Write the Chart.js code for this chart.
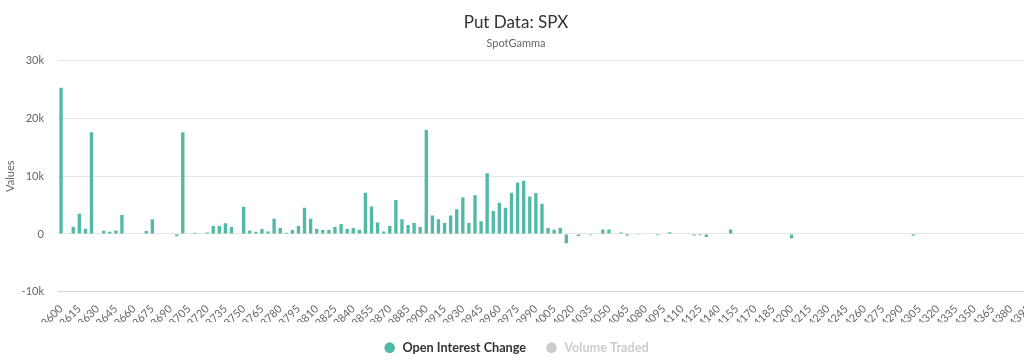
<!DOCTYPE html>
<html>
<head>
<meta charset="utf-8">
<title>Put Data: SPX</title>
<script src="https://cdn.jsdelivr.net/npm/chart.js@4.4.0/dist/chart.umd.min.js"></script>
<style>
  html, body { margin: 0; padding: 0; background: #fff; overflow: hidden; }
  #wrap { position: relative; width: 1034px; height: 364px; }
</style>
</head>
<body>
<div id="wrap"><canvas id="putChart"></canvas></div>
<script>
// strikes (x axis categories)
const strikes = [
  3600, 3605, 3610, 3615, 3620, 3625, 3630, 3635, 3640, 3645,
  3650, 3655, 3660, 3665, 3670, 3675, 3680, 3685, 3690, 3695,
  3700, 3705, 3710, 3715, 3720, 3725, 3730, 3735, 3740, 3745,
  3750, 3755, 3760, 3765, 3770, 3775, 3780, 3785, 3790, 3795,
  3800, 3805, 3810, 3815, 3820, 3825, 3830, 3835, 3840, 3845,
  3850, 3855, 3860, 3865, 3870, 3875, 3880, 3885, 3890, 3895,
  3900, 3905, 3910, 3915, 3920, 3925, 3930, 3935, 3940, 3945,
  3950, 3955, 3960, 3965, 3970, 3975, 3980, 3985, 3990, 3995,
  4000, 4005, 4010, 4015, 4020, 4025, 4030, 4035, 4040, 4045,
  4050, 4055, 4060, 4065, 4070, 4075, 4080, 4085, 4090, 4095,
  4100, 4105, 4110, 4115, 4120, 4125, 4130, 4135, 4140, 4145,
  4150, 4155, 4160, 4165, 4170, 4175, 4180, 4185, 4190, 4195,
  4200, 4205, 4210, 4215, 4220, 4225, 4230, 4235, 4240, 4245,
  4250, 4255, 4260, 4265, 4270, 4275, 4280, 4285, 4290, 4295,
  4300, 4305, 4310, 4315, 4320, 4325, 4330, 4335, 4340, 4345,
  4350, 4355, 4360, 4365, 4370, 4375, 4380, 4385, 4390, 4395
];

// open interest change per strike
const openInterestChange = [
  25300, 0, 1250, 3500, 900, 17600, 0, 550, 400, 600,
  3300, 0, 0, 0, 500, 2550, 0, 0, 0, -400,
  17600, 0, 200, 0, 250, 1400, 1400, 1850, 1200, 0,
  4700, 600, 400, 870, 450, 2650, 1050, 200, 700, 1400,
  4550, 2650, 870, 700, 700, 1200, 1750, 870, 1050, 750,
  7150, 4750, 2000, 450, 1400, 5900, 2550, 1550, 1900, 1200,
  18000, 3200, 2550, 1900, 3200, 4300, 6300, 1900, 6700, 2200,
  10500, 4000, 5400, 4550, 7150, 8900, 9200, 6500, 7100, 5250,
  1050, 750, 1100, -1600, 0, -350, 0, -200, 0, 800,
  800, 0, 250, -300, 0, -150, 0, 0, -200, 0,
  300, 0, 0, 0, -250, -200, -500, 0, 0, 0,
  800, 0, 0, 0, 0, 0, 0, 0, 0, 0,
  -800, 0, 0, 0, 0, 0, 0, 0, 0, 0,
  0, 0, 0, 0, 0, 0, 0, 0, 0, 0,
  -300, 0, 0, 0, 0, 0, 0, 0, 0, 0,
  0, 0, 0, 0, 0, 0, 0, 0, 0, 0
];

// volume traded series is switched off in the legend
const volumeTraded = [];

const yTicks = [-10000, 0, 10000, 20000, 30000];

const teal = '#52b9a7';
const fontFamily = 'Lato, "Open Sans", sans-serif';

const ctx = document.getElementById('putChart').getContext('2d');
new Chart(ctx, {
    type: 'bar',
    data: {
        labels: strikes,
        datasets: [{
            label: 'Open Interest Change',
            data: openInterestChange,
            backgroundColor: teal,
            borderWidth: 0,
            barPercentage: 0.55,
            categoryPercentage: 1
        }, {
            label: 'Volume Traded',
            data: volumeTraded,
            backgroundColor: '#cccccc',
            hidden: true
        }]
    },
    options: {
        responsive: true,
        maintainAspectRatio: false,
        animation: false,
        layout: { padding: { left: 0, right: 2, top: 0, bottom: 0 } },
        plugins: {
            title: {
                display: true,
                text: 'Put Data: SPX',
                color: '#333333',
                font: { family: fontFamily, size: 17, weight: 'normal' },
                padding: { top: 12, bottom: 4 }
            },
            subtitle: {
                display: true,
                text: 'SpotGamma',
                color: '#666666',
                font: { family: fontFamily, size: 11 },
                padding: { top: 0, bottom: 11 }
            },
            legend: {
                position: 'bottom',
                labels: {
                    usePointStyle: true,
                    pointStyle: 'circle',
                    boxWidth: 13,
                    boxHeight: 7.5,
                    padding: 19,
                    font: { family: fontFamily, size: 12.7, weight: 'bold' },
                    generateLabels(chart) {
                        const items = Chart.defaults.plugins.legend.labels.generateLabels(chart);
                        return items.map(item => {
                            const off = item.hidden;
                            item.hidden = false;
                            item.fontColor = off ? '#cccccc' : '#333333';
                            item.fillStyle = off ? '#cccccc' : teal;
                            item.strokeStyle = item.fillStyle;
                            item.lineWidth = 0;
                            return item;
                        });
                    }
                }
            },
            tooltip: { enabled: false }
        },
        scales: {
            x: {
                grid: { display: false, drawTicks: false },
                border: { display: false },
                afterFit(scale) {
                    scale.paddingLeft = 0;
                    scale.paddingRight = 0;
                    scale.height = 30.5;
                },
                ticks: {
                    autoSkip: false,
                    minRotation: 45,
                    maxRotation: 45,
                    padding: 10.5,
                    color: '#666666',
                    font: { family: fontFamily, size: 11 },
                    callback(value, index) {
                        return index % 3 === 0 ? String(strikes[index]) : '';
                    }
                }
            },
            y: {
                min: yTicks[0],
                max: yTicks[yTicks.length - 1],
                afterBuildTicks(scale) {
                    scale.ticks = yTicks.map(v => ({ value: v }));
                },
                afterFit(scale) {
                    scale.width = 58;
                },
                border: { display: false },
                grid: {
                    drawTicks: false,
                    color: c => (c.tick && c.tick.value === yTicks[0]) ? '#ccd6eb' : '#e6e6e6'
                },
                ticks: {
                    padding: 14,
                    color: '#666666',
                    font: { family: fontFamily, size: 11 },
                    callback: v => v === 0 ? '0' : (v / 1000) + 'k'
                },
                title: {
                    display: true,
                    text: 'Values',
                    color: '#666666',
                    font: { family: fontFamily, size: 11 }
                }
            }
        }
    }
});
</script>
</body>
</html>
